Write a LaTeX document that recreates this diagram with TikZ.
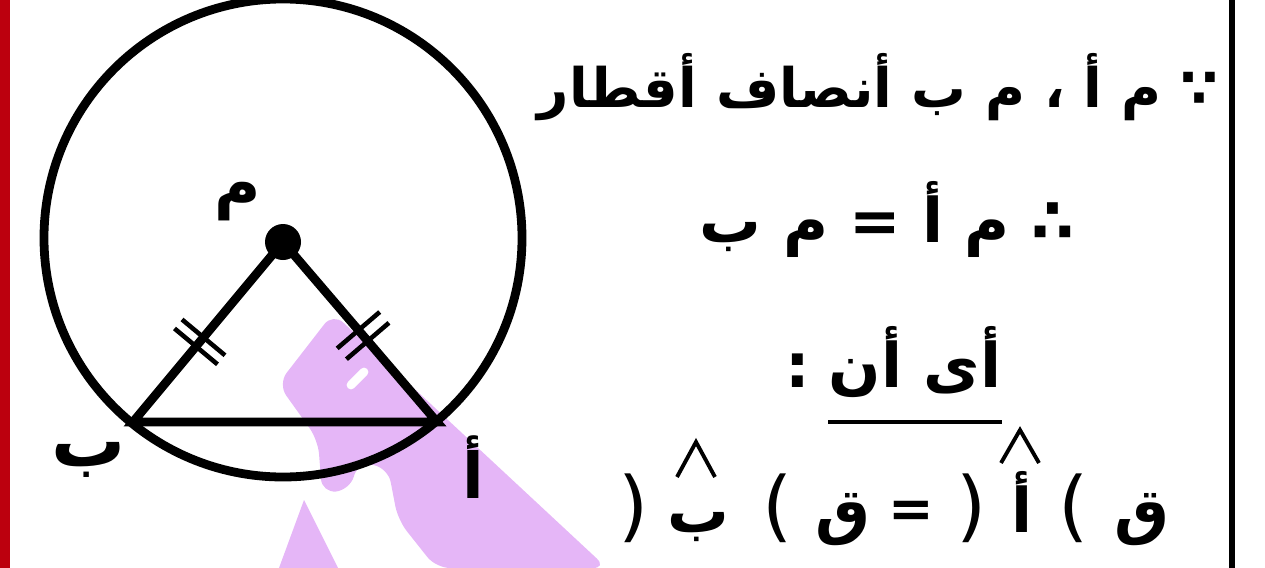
\documentclass[tikz,border=0pt]{standalone}
\usepackage{fontspec}
\usetikzlibrary{calc}
\newfontfamily\arabicfont[Script=Arabic]{DejaVu Sans}
\TeXXeTstate=1
\definecolor{edgered}{RGB}{188,0,14}
\definecolor{wmpink}{RGB}{229,182,247}

% one double tick across a radius
\newcommand\radtick[3]{%
  \path ($(#1)!#3!(#2)$) coordinate (tk);
  \draw[tickln] ($(tk)!0.56cm!90:(#2)$) -- ($(tk)!0.56cm!-90:(#2)$);}

\begin{document}
\begin{tikzpicture}[
  x=0.02cm, y=-0.02cm,
  rim/.style={line width=5pt},
  side/.style={line width=5pt, line cap=round},
  tickln/.style={line width=2.6pt},
  ar/.style={font=\arabicfont\bfseries\fontsize{31}{36}\selectfont, inner sep=0pt},
  arbig/.style={font=\arabicfont\bfseries\fontsize{35}{40}\selectfont, inner sep=0pt},
  paren/.style={font=\arabicfont\fontsize{44}{50}\selectfont, inner sep=0pt},
  pt/.style={font=\arabicfont\bfseries\fontsize{36}{42}\selectfont, inner sep=0pt},
  hat/.style={line width=2.2pt, line join=miter},
]
  \useasboundingbox (0,0) rectangle (1265,568);

  % --- frame ---
  \fill[edgered] (0,0) rectangle (10,568);
  \draw[line width=3pt] (1232,0) -- (1232,568);

  % --- watermark ---
  \fill[wmpink, rounded corners=8] (333,313) -- (607,568) -- (436,568)
    -- (398,520) -- (388,468) -- (358,462) -- (350,490) -- (322,493)
    -- (318,440) -- (278,384) -- cycle;
  \fill[wmpink] (304,500) -- (338,568) -- (279,568) -- cycle;
  \draw[white, line width=5pt, line cap=round] (351,385) -- (364,372);

  % --- circle and triangle ---
  \coordinate (O) at (283,238);
  \coordinate (M) at (283,242);
  \coordinate (A) at (437,422);
  \coordinate (B) at (133,422);
  \draw[rim] (O) circle (239);
  \draw[side] (M) -- (B) -- (A) -- cycle;
  \fill (M) circle (18);

  \radtick{M}{B}{0.53}
  \radtick{M}{B}{0.58}
  \radtick{M}{A}{0.49}
  \radtick{M}{A}{0.55}

  \node[pt] (lblM) at (238,202) {م};
  \node[pt, font=\arabicfont\bfseries\fontsize{42}{48}\selectfont] (lblB) at (89,460) {ب};
  \node[pt] (lblA) at (473,467) {أ};

  % --- reasoning ---
  \node[ar, anchor=base] (reason) at (878,107)
    {\beginR ∵ م أ ، م ب أنصاف أقطار\endR};
  \node[arbig, anchor=base] (concl) at (887,242)
    {\beginR ∴ م أ = م ب\endR};

  \node[arbig, anchor=base] (ayan) at (915,387) {\beginR أى أن\endR};
  \node[arbig, anchor=base east] (colon) at (810,387) {:};
  \draw[line width=2.4pt] (ayan.west |- 0,422) -- (ayan.east |- 0,422);

  % --- angle equality, right to left ---
  \node[arbig, anchor=base] (qA)  at (1142,532) {ق};
  \node[paren, anchor=base] (rpA) at (1074,532) {)};
  \node[arbig, anchor=base] (vA)  at (1022,532) {أ};
  \node[paren, anchor=base] (lpA) at (972,532)  {(};
  \node[ar, anchor=base] (eq)  at (911,527)  {=};
  \node[arbig, anchor=base] (qB)  at (843,532)  {ق};
  \node[paren, anchor=base] (rpB) at (778,532)  {)};
  \node[arbig, anchor=base] (vB)  at (698,532)  {ب};
  \node[paren, anchor=base] (lpB) at (634,532)  {(};
  \draw[hat] (1001,463) -- (1020,430) -- (1039,463);
  \draw[hat] (677,477) -- (696,442) -- (715,477);
\end{tikzpicture}
\end{document}
